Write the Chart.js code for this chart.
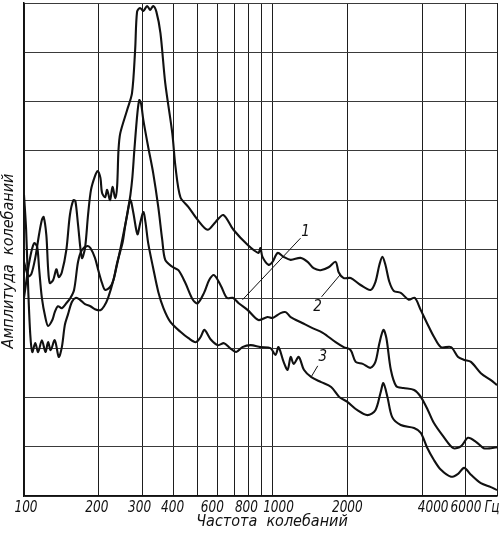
<!DOCTYPE html>
<html>
<head>
<meta charset="utf-8">
<script src="https://cdn.jsdelivr.net/npm/chart.js@4.4.1/dist/chart.umd.min.js"></script>
<style>
html, body { margin: 0; padding: 0; background: #fff; }
#wrap { width: 500px; height: 543px; }
</style>
</head>
<body>
<div id="wrap"><canvas id="chart"></canvas></div>
<script>
// grid lines on the frequency axis (Hz) and the labels under them
const gridFreqs = [100, 200, 300, 400, 500, 600, 700, 800, 900, 1000, 2000, 4000, 6000, 8000];
const tickLabels = ['100', '200', '300', '400', '', '600', '', '800', '', '1000', '2000', '4000', '6000', 'Гц'];
// the printed labels sit a little off their lines (in px, + is right)
const labelShift = [2, -2, -3, -1, 0, -5, 0, -2, 0, 6, 0, 11, 0, -5];

// curve 1 (middle)
const freq1 = [100,104,107,110,113,115,118,122,125,130,133,137,142,148,153,159,165,171,180,185,
  193,199,206,212,222,229,237,249,255,263,268,273,278,286,291,296,302,316,331,347,
  360,370,395,418,446,478,500,530,556,582,620,655,692,731,795,877,955,1000,1077,1130,
  1183,1317,1441,1593,1794,1933,2062,2160,2306,2477,2593,2691,2793,2872,2992,3144,3360,3711,3949,4218,
  4460,4880,5336,5740,6114,6580,7070,7560,8000];
const amp1 = [4.02,4.62,4.95,5.13,5.05,4.62,4.02,3.61,3.45,3.57,3.73,3.85,3.81,3.91,4.00,4.18,4.75,4.99,5.07,5.03,
  4.83,4.58,4.32,4.18,4.24,4.38,4.73,5.13,5.46,5.86,6.11,6.47,7.02,7.77,8.03,7.95,7.63,7.08,6.55,5.86,
  5.19,4.79,4.65,4.58,4.32,3.98,3.91,4.12,4.38,4.48,4.26,4.02,4.02,3.91,3.77,3.57,3.63,3.61,3.71,3.73,
  3.63,3.51,3.41,3.31,3.12,3.02,2.96,2.72,2.68,2.60,2.72,3.10,3.37,3.20,2.56,2.23,2.19,2.15,2.01,1.74,
  1.48,1.20,0.97,1.01,1.18,1.10,0.97,0.97,0.99];

// curve 2 (top)
const freq2 = [100,104,107,111,115,118,120,123,125,127,131,135,138,142,148,153,158,161,165,171,
  176,181,186,193,198,203,206,212,216,222,227,233,237,240,244,260,272,280,285,293,
  302,313,322,331,341,354,370,395,407,426,459,500,548,590,634,696,795,877,894,911,
  963,1000,1048,1108,1183,1296,1384,1463,1561,1681,1794,1845,1933,2062,2260,2477,2593,2691,2767,2845,
  2953,3076,3280,3532,3734,3949,4218,4460,4760,5224,5579,5900,6284,6888,7560,8000];
const amp2 = [4.75,4.46,4.50,4.83,5.31,5.60,5.66,5.29,4.62,4.32,4.38,4.60,4.44,4.54,4.99,5.70,6.00,5.98,5.50,4.83,
  5.03,5.70,6.21,6.49,6.59,6.45,6.15,6.06,6.21,6.00,6.27,6.04,6.29,7.02,7.36,7.83,8.17,9.05,9.82,9.90,
  9.84,9.94,9.86,9.94,9.82,9.39,8.38,7.36,6.67,6.06,5.86,5.60,5.40,5.56,5.70,5.40,5.09,4.93,5.03,4.85,
  4.69,4.75,4.93,4.85,4.79,4.83,4.75,4.62,4.58,4.64,4.75,4.54,4.42,4.42,4.28,4.18,4.34,4.69,4.85,4.69,
  4.34,4.16,4.12,3.98,4.02,3.77,3.47,3.23,3.02,3.02,2.82,2.76,2.72,2.49,2.35,2.25];

// curve 3 (bottom)
const freq3 = [100,102,104,106,108,111,114,118,122,125,128,133,138,142,146,150,156,162,168,176,
  185,193,203,210,218,229,240,251,260,268,275,286,293,302,308,316,331,347,364,388,
  426,459,491,513,532,563,603,638,674,714,756,817,894,981,1028,1057,1108,1150,1183,1216,
  1275,1337,1433,1569,1721,1855,2000,2194,2408,2593,2718,2793,2899,3030,3280,3711,3949,4180,4460,4760,
  5224,5579,5900,6284,6888,7560,8000];
const amp3 = [6.11,5.40,4.18,3.27,2.92,3.10,2.92,3.16,2.92,3.12,2.96,3.16,2.82,3.02,3.47,3.67,3.94,4.02,3.98,3.89,
  3.85,3.79,3.77,3.85,4.02,4.38,4.83,5.31,5.70,6.00,5.76,5.31,5.52,5.76,5.56,5.13,4.62,4.14,3.81,3.53,
  3.33,3.20,3.12,3.22,3.37,3.18,3.06,3.10,3.00,2.92,3.02,3.06,3.02,3.00,2.86,3.02,2.72,2.56,2.82,2.68,
  2.82,2.56,2.41,2.31,2.21,2.01,1.91,1.74,1.64,1.74,2.09,2.29,2.01,1.60,1.44,1.38,1.28,0.99,0.73,0.53,
  0.39,0.45,0.57,0.43,0.26,0.18,0.12];

// curve numbers and their leader lines, in chart units (Hz, amplitude)
const curveNames = ['1', '2', '3'];
const nameAt = [[1359, 5.36], [1518, 3.83], [1593, 2.82]];
const leaderFrom = [[1296, 5.23], [1575, 4.04], [1520, 2.64]];
const leaderTo = [[757, 3.98], [1880, 4.50], [1436, 2.43]];

const FONT = '"Liberation Sans Narrow", "DejaVu Sans Condensed", "Liberation Sans", sans-serif';
const INK = '#111';

function points(fs, as) {
    return fs.map((f, i) => ({ x: f, y: as[i] }));
}

function curve(fs, as) {
    return {
        data: points(fs, as),
        borderColor: INK,
        borderWidth: 2.1,
        pointRadius: 0,
        tension: 0.3,
        fill: false
    };
}

// curve numbers, leaders, tick labels and axis titles
const notes = {
    id: 'notes',
    afterDraw(chart) {
        const { ctx, scales: { x, y } } = chart;
        ctx.save();
        ctx.fillStyle = INK;
        ctx.strokeStyle = INK;
        ctx.lineWidth = 1;
        ctx.textAlign = 'center';
        ctx.textBaseline = 'middle';
        ctx.font = 'italic 15px ' + FONT;
        curveNames.forEach((name, i) => {
            ctx.fillText(name, x.getPixelForValue(nameAt[i][0]), y.getPixelForValue(nameAt[i][1]));
            ctx.beginPath();
            ctx.moveTo(x.getPixelForValue(leaderFrom[i][0]), y.getPixelForValue(leaderFrom[i][1]));
            ctx.lineTo(x.getPixelForValue(leaderTo[i][0]), y.getPixelForValue(leaderTo[i][1]));
            ctx.stroke();
        });

        // frequency labels under their grid lines, narrow like the print
        ctx.textBaseline = 'alphabetic';
        ctx.font = 'italic 16px ' + FONT;
        gridFreqs.forEach((f, i) => {
            if (!tickLabels[i]) return;
            ctx.save();
            ctx.translate(x.getPixelForValue(f) + labelShift[i], 512);
            ctx.scale(0.84, 1);
            ctx.fillText(tickLabels[i], 0, 0);
            ctx.restore();
        });

        ctx.fillText('Частота  колебаний', 272, 526);
        ctx.translate(13, 261);
        ctx.rotate(-Math.PI / 2);
        ctx.fillText('Амплитуда  колебаний', 0, 0);
        ctx.restore();
    }
};

new Chart(document.getElementById('chart'), {
    type: 'line',
    data: {
        datasets: [curve(freq1, amp1), curve(freq2, amp2), curve(freq3, amp3)]
    },
    options: {
        responsive: true,
        maintainAspectRatio: false,
        animation: false,
        events: [],
        layout: { padding: { left: 24, right: 3, top: 3, bottom: 0 } },
        plugins: { legend: { display: false }, tooltip: { enabled: false } },
        scales: {
            x: {
                type: 'logarithmic',
                min: 100,
                max: 8000,
                afterBuildTicks: scale => {
                    scale.ticks = gridFreqs.map(v => ({ value: v }));
                },
                afterFit: scale => {
                    scale.height = 47;
                    scale.paddingLeft = 0;
                    scale.paddingRight = 0;
                },
                ticks: { display: false, autoSkip: false },
                grid: { color: '#1e1e1e', lineWidth: 1, drawTicks: false },
                border: { color: INK, width: 1.5 }
            },
            y: {
                min: 0,
                max: 10,
                afterFit: scale => { scale.width = 0; },
                ticks: { stepSize: 1, display: false },
                grid: { color: '#3a3a3a', lineWidth: 1, drawTicks: false },
                border: { color: INK, width: 1.5 }
            }
        }
    },
    plugins: [notes]
});
</script>
</body>
</html>
